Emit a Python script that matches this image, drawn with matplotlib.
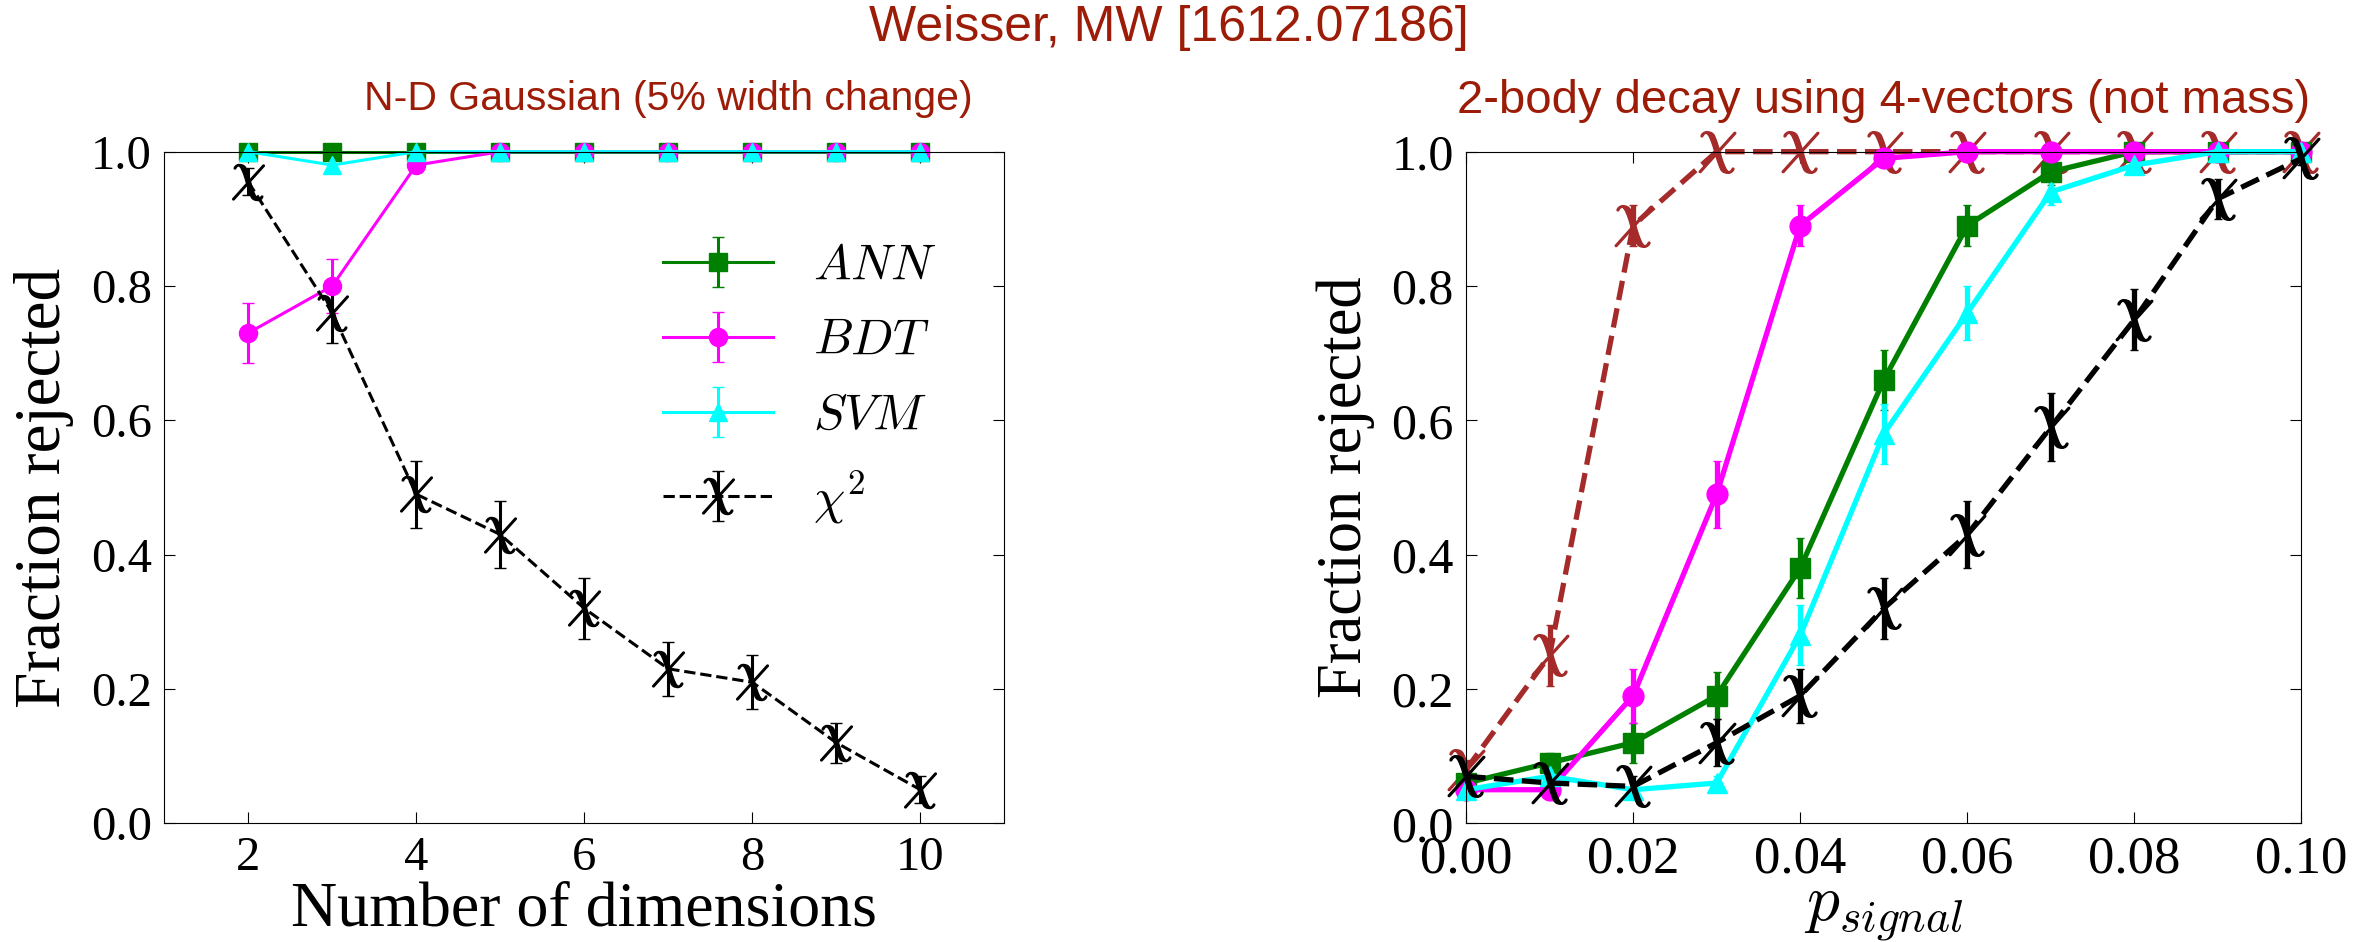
import numpy as np
import matplotlib
matplotlib.use('Agg')
import matplotlib.pyplot as plt

# left panel: N-D gaussian
dims = [2, 3, 4, 5, 6, 7, 8, 9, 10]
ann_l = [1.0, 1.0, 1.0, 1.0, 1.0, 1.0, 1.0, 1.0, 1.0]
ann_l_err = [0.0, 0.0, 0.0, 0.0, 0.0, 0.0, 0.0, 0.0, 0.0]
bdt_l = [0.73, 0.80, 0.98, 1.0, 1.0, 1.0, 1.0, 1.0, 1.0]
bdt_l_err = [0.045, 0.04, 0.01, 0.0, 0.0, 0.0, 0.0, 0.0, 0.0]
svm_l = [1.0, 0.98, 1.0, 1.0, 1.0, 1.0, 1.0, 1.0, 1.0]
svm_l_err = [0.0, 0.01, 0.0, 0.0, 0.0, 0.0, 0.0, 0.0, 0.0]
chi_l = [0.955, 0.76, 0.49, 0.43, 0.32, 0.23, 0.21, 0.12, 0.05]
chi_l_err = [0.02, 0.045, 0.05, 0.05, 0.045, 0.04, 0.04, 0.03, 0.02]

# right panel: 2-body decay
psig = [0.0, 0.01, 0.02, 0.03, 0.04, 0.05, 0.06, 0.07, 0.08, 0.09, 0.10]
ann_r = [0.06, 0.09, 0.12, 0.19, 0.38, 0.66, 0.89, 0.97, 1.0, 1.0, 1.0]
ann_r_err = [0.01, 0.015, 0.03, 0.035, 0.045, 0.045, 0.03, 0.02, 0.0, 0.0, 0.0]
bdt_r = [0.05, 0.05, 0.19, 0.49, 0.89, 0.99, 1.0, 1.0, 1.0, 1.0, 1.0]
bdt_r_err = [0.01, 0.01, 0.04, 0.05, 0.03, 0.01, 0.0, 0.0, 0.0, 0.0, 0.0]
svm_r = [0.05, 0.07, 0.05, 0.06, 0.28, 0.58, 0.76, 0.94, 0.98, 1.0, 1.0]
svm_r_err = [0.01, 0.015, 0.01, 0.01, 0.045, 0.045, 0.04, 0.02, 0.01, 0.0, 0.0]
chi_r = [0.07, 0.06, 0.055, 0.12, 0.19, 0.32, 0.43, 0.59, 0.75, 0.93, 0.99]
chi_r_err = [0.015, 0.015, 0.015, 0.035, 0.04, 0.045, 0.05, 0.05, 0.045, 0.03, 0.01]
chi_r2 = [0.08, 0.25, 0.89, 1.0, 1.0, 1.0, 1.0, 1.0, 1.0, 1.0, 1.0]
chi_r2_err = [0.015, 0.045, 0.03, 0.0, 0.0, 0.0, 0.0, 0.0, 0.0, 0.0, 0.0]

plt.rcParams['font.family'] = ['Liberation Serif', 'DejaVu Serif']
plt.rcParams['mathtext.fontset'] = 'cm'
plt.rcParams['xtick.direction'] = 'in'
plt.rcParams['ytick.direction'] = 'in'
plt.rcParams['xtick.top'] = True
plt.rcParams['ytick.right'] = True

tcol = '#9c1c08'
tfont = ['Liberation Sans', 'DejaVu Sans']

fig = plt.figure(figsize=(23.8, 9.42), dpi=100)
ax1 = fig.add_axes([0.069, 0.126, 0.353, 0.713])
ax2 = fig.add_axes([0.616, 0.126, 0.351, 0.713])

lw1 = 2.2
ax1.errorbar(dims, ann_l, yerr=ann_l_err, color='green', marker='s', ms=13, lw=lw1, capsize=4,
             clip_on=False, label='$ANN$')
ax1.errorbar(dims, bdt_l, yerr=bdt_l_err, color='magenta', marker='o', ms=13, lw=lw1, capsize=4,
             clip_on=False, label='$BDT$')
ax1.errorbar(dims, svm_l, yerr=svm_l_err, color='cyan', marker='^', ms=13, lw=lw1, capsize=4,
             clip_on=False, label='$SVM$')
ax1.errorbar(dims, chi_l, yerr=chi_l_err, color='black', marker='$\\chi$', ms=26, lw=lw1, ls='--',
             capsize=4, clip_on=False, label='$\\chi^2$')
ax1.set_xlim(1, 11)
ax1.set_ylim(0, 1.0)
ax1.set_xticks([2, 4, 6, 8, 10])
ax1.set_yticks([0.0, 0.2, 0.4, 0.6, 0.8, 1.0])
ax1.set_yticklabels(['0.0', '0.2', '0.4', '0.6', '0.8', '1.0'])
ax1.tick_params(labelsize=35, length=8, pad=9)
ax1.set_xlabel('Number of dimensions', fontsize=46, labelpad=1)
ax1.set_ylabel('Fraction rejected', fontsize=47, labelpad=12)
ax1.legend(loc='upper left', bbox_to_anchor=(0.54, 0.93), frameon=False, fontsize=36,
           handlelength=2.2, labelspacing=0.57)
ax1.set_title('N-D Gaussian (5% width change)', color=tcol, fontsize=29.5, family=tfont, pad=30, x=0.6)

lw2 = 3.8
ax2.errorbar(psig, chi_r2, yerr=chi_r2_err, color='brown', marker='$\\chi$', ms=30, lw=lw2, ls='--',
             capsize=3, clip_on=False)
ax2.errorbar(psig, ann_r, yerr=ann_r_err, color='green', marker='s', ms=15, lw=lw2, capsize=3, clip_on=False)
ax2.errorbar(psig, bdt_r, yerr=bdt_r_err, color='magenta', marker='o', ms=15, lw=lw2, capsize=3, clip_on=False)
ax2.errorbar(psig, svm_r, yerr=svm_r_err, color='cyan', marker='^', ms=15, lw=lw2, capsize=3, clip_on=False)
ax2.errorbar(psig, chi_r, yerr=chi_r_err, color='black', marker='$\\chi$', ms=30, lw=lw2, ls='--',
             capsize=3, clip_on=False)
ax2.set_xlim(0, 0.1)
ax2.set_ylim(0, 1.0)
ax2.set_xticks([0.0, 0.02, 0.04, 0.06, 0.08, 0.10])
ax2.set_xticklabels(['0.00', '0.02', '0.04', '0.06', '0.08', '0.10'])
ax2.set_yticks([0.0, 0.2, 0.4, 0.6, 0.8, 1.0])
ax2.set_yticklabels(['0.0', '0.2', '0.4', '0.6', '0.8', '1.0'])
ax2.tick_params(axis='x', labelsize=38, length=8, pad=9)
ax2.tick_params(axis='y', labelsize=36, length=8, pad=9)
ax2.set_xlabel('$p_{signal}$', fontsize=47, labelpad=0)
ax2.set_ylabel('Fraction rejected', fontsize=45, labelpad=12)
ax2.set_title('2-body decay using 4-vectors (not mass)', color=tcol, fontsize=34, family=tfont, pad=28)

fig.suptitle('Weisser, MW [1612.07186]', color=tcol, fontsize=36, family=tfont, x=0.491, y=0.995)

fig.savefig('out.png', dpi=100)
